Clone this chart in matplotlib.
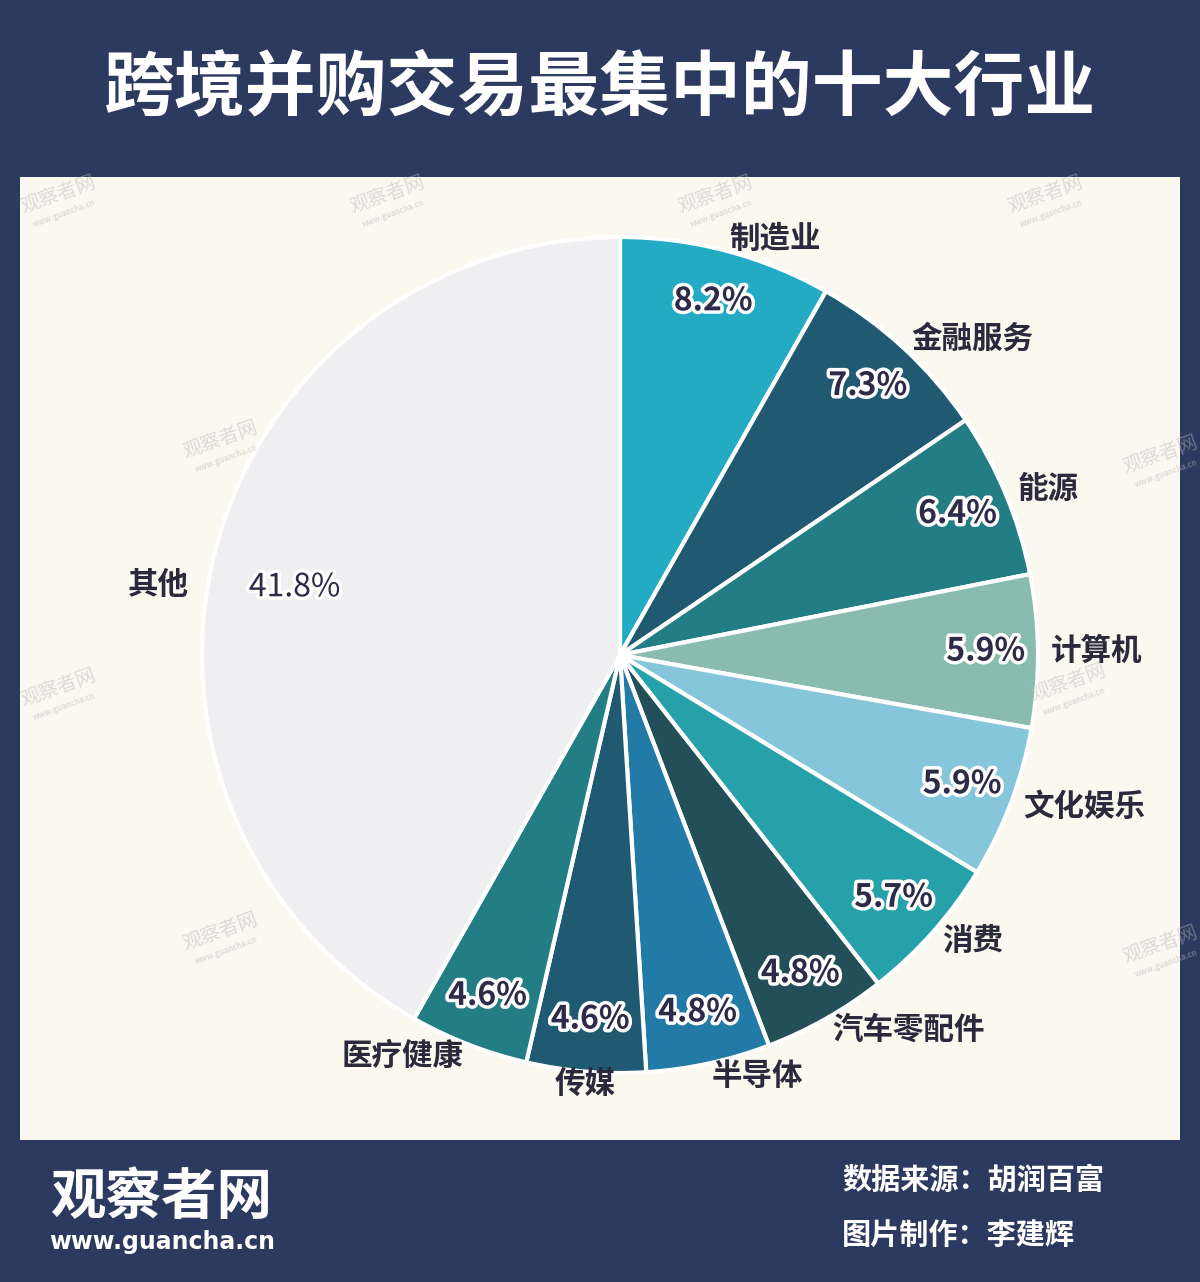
import matplotlib.pyplot as plt
import matplotlib.patheffects as pe
from matplotlib.patches import Rectangle
import numpy as np

plt.rcParams['font.family'] = ['Noto Sans CJK SC', 'DejaVu Sans']

title = '跨境并购交易最集中的十大行业'
industries = ['制造业', '金融服务', '能源', '计算机', '文化娱乐', '消费',
              '汽车零配件', '半导体', '传媒', '医疗健康', '其他']
shares = [8.2, 7.3, 6.4, 5.9, 5.9, 5.7, 4.8, 4.8, 4.6, 4.6, 41.8]
colors = ['#22abc3', '#1f5a72', '#237d84', '#89bcae', '#86c6da', '#26a1aa',
          '#234f58', '#227aa6', '#1f5a72', '#237d84', '#efeff1']
source = '数据来源：胡润百富'
author = '图片制作：李建辉'

W, H = 1200, 1282
navy = '#2c3a5f'
ink = '#2a2a3c'


def Y(y):
    # image row -> axes y
    return H - y


fig = plt.figure(figsize=(W / 100, H / 100), dpi=100)
fig.patch.set_facecolor(navy)
ax = fig.add_axes([0, 0, 1, 1])

ax.add_patch(Rectangle((20, Y(1140)), 1160, 963, facecolor='#fbf8ef',
                       edgecolor='none', zorder=0))

cx, cy, r = 620, Y(655), 418
ld = 1.03
wedges, texts, autotexts = ax.pie(
    shares, colors=colors, labels=industries, startangle=90, counterclock=False,
    center=(cx, cy), radius=r, labeldistance=ld, pctdistance=0.875,
    autopct='%.1f%%', wedgeprops=dict(edgecolor='white', linewidth=3),
    textprops=dict(color=ink, fontsize=22))

# ECharts nudged the big slice's labels a little lower
w = wedges[-1]
mid = np.deg2rad((w.theta1 + w.theta2) / 2 + 5.5)
texts[-1].set_position((cx + 1.045 * r * np.cos(mid), cy + 1.045 * r * np.sin(mid)))
mid = np.deg2rad((w.theta1 + w.theta2) / 2 + 3)
autotexts[-1].set_position((cx + 0.795 * r * np.cos(mid), cy + 0.795 * r * np.sin(mid)))

for t in texts:
    t.set_fontsize(22)
    t.set_fontweight('bold')
    x, y = t.get_position()
    if abs(x - cx) < 0.15 * r:
        t.set_ha('center')
    elif x < cx:
        t.set_ha('right')
    else:
        t.set_ha('left')

for t in autotexts:
    t.set_fontsize(23)
    t.set_fontweight('bold')
    t.set_color('#2d2b48')
    t.set_path_effects([pe.withStroke(linewidth=5, foreground='white')])
autotexts[-1].set_fontweight('medium')

# watermarks
marks = [(58, 195), (387, 195), (715, 195), (1045, 195), (220, 440),
         (58, 688), (220, 932), (1068, 683), (1160, 455), (1160, 945)]
for mx, my in marks:
    ax.text(mx, Y(my), '观察者网', fontsize=14, color='#b8b8b8', alpha=0.45,
            rotation=20, ha='center', va='center', zorder=10)
    ax.text(mx + 6, Y(my + 18), 'www.guancha.cn', fontsize=5.5, color='#b8b8b8',
            alpha=0.45, rotation=20, ha='center', va='center', fontweight='bold',
            zorder=10)

ax.text(600, Y(88), title, fontsize=51, color='white', fontweight='bold',
        ha='center', va='center')

ax.text(50, Y(1198), '观察者网', fontsize=40, color='white', fontweight='heavy',
        ha='left', va='center')
ax.text(162, Y(1242), 'www.guancha.cn', fontsize=17, color='white',
        fontweight='bold', family='DejaVu Sans', ha='center', va='center')
ax.text(842, Y(1180), source, fontsize=21, color='white', fontweight='bold',
        ha='left', va='center')
ax.text(842, Y(1235), author, fontsize=21, color='white', fontweight='bold',
        ha='left', va='center')

ax.set_xlim(0, W)
ax.set_ylim(0, H)
ax.set_aspect('equal')
ax.axis('off')

fig.savefig('out.png', dpi=100, facecolor=navy)
